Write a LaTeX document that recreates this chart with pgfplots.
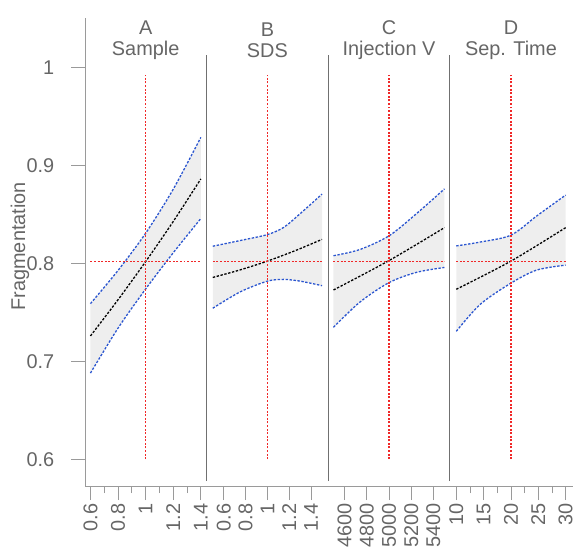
\documentclass[border=0pt]{standalone}
\usepackage{fontspec}
\setmainfont{Liberation Sans}
\usepackage{pgfplots}
\pgfplotsset{compat=1.18}
\definecolor{txt}{HTML}{666666}
\definecolor{axl}{HTML}{9A9A9A}
\definecolor{sepc}{HTML}{707070}
\definecolor{bandf}{HTML}{EEEEEE}
\definecolor{blu}{HTML}{2A55D0}
\definecolor{crossc}{RGB}{240,40,40}
\tikzset{
  ttl/.style={font=\fontsize{20}{21}\selectfont, text=txt, align=center},
  upl/.style={color=blu, line width=1.3pt, dash pattern=on 2.4pt off 1.6pt},
  ctrl/.style={color=black, line width=1.3pt, dash pattern=on 2.4pt off 1.6pt},
  redl/.style={color=crossc, line width=1.3pt, dash pattern=on 2pt off 1.6pt},
  band/.style={fill=bandf, draw=none},
  ytk/.style={color=axl, line width=0.8pt},
}
\pgfplotsset{
  prof/.style={
    scale only axis, width=122pt, height=471pt,
    anchor=south west,
    ymin=0.5725, ymax=1.0511,
    clip=false,
    axis x line*=bottom,
    major tick length=14pt, minor tick length=7pt,
    tick style={color=axl, line width=0.8pt},
    axis line style={color=axl, line width=0.9pt},
    /pgf/number format/assume math mode=true,
    /pgf/number format/set thousands separator={},
    every tick label/.append style={font=\fontsize{20}{22}\selectfont, text=txt},
    xticklabel style={rotate=90, anchor=east},
  },
  noy/.style={axis y line=none, ytick=\empty, xtick align=outside},
}
\begin{document}
\begin{tikzpicture}
\path (0,0) rectangle (576pt,563pt);
% Panel A
\begin{axis}[prof, at={(86pt,74pt)},
  xmin=0.564, xmax=1.443,
  axis y line*=left,
  xtick align=outside, ytick align=outside,
  ytick pos=left, yticklabel pos=left,
  ytick={0.6,0.7,0.8,0.9,1},
  yticklabel style={xshift=-14pt},
  xtick={0.6,0.8,1,1.2,1.4}, minor xtick={0.7,0.9,1.1,1.3},
  ylabel={Fragmentation},
  ylabel style={at={(axis description cs:-0.541,0.512)}, anchor=center, font=\fontsize{20}{22}\selectfont, text=txt},
]
\draw[ytk] (axis cs:0.564,0.6) -- ++(-15pt,0pt);
\draw[ytk] (axis cs:0.564,0.7) -- ++(-15pt,0pt);
\draw[ytk] (axis cs:0.564,0.8) -- ++(-15pt,0pt);
\draw[ytk] (axis cs:0.564,0.9) -- ++(-15pt,0pt);
\draw[ytk] (axis cs:0.564,1.0) -- ++(-15pt,0pt);
\addplot[band] coordinates {(0.6,0.759)(0.7,0.7755)(0.8,0.793)(0.9,0.8115)(1.0,0.831)(1.1,0.8525)(1.2,0.876)(1.3,0.9015)(1.4,0.929)
  (1.4,0.846)(1.3,0.829)(1.2,0.811)(1.1,0.7925)(1.0,0.774)(0.9,0.7545)(0.8,0.734)(0.7,0.7115)(0.6,0.688)} -- cycle;
\addplot[upl, smooth] coordinates {(0.6,0.759)(0.8,0.793)(1.0,0.831)(1.2,0.876)(1.4,0.929)};
\addplot[upl, smooth] coordinates {(0.6,0.688)(0.8,0.734)(1.0,0.774)(1.2,0.811)(1.4,0.846)};
\addplot[ctrl, smooth] coordinates {(0.6,0.726)(0.8,0.763)(1.0,0.802)(1.2,0.843)(1.4,0.8865)};
\addplot[redl] coordinates {(1,0.6)(1,0.9932)};
\addplot[redl] coordinates {(0.6,0.802)(1.4,0.802)};
\node[ttl] at (axis cs:1,1.0286) {A\\Sample};
\end{axis}
% Panel B
\begin{axis}[prof, noy, at={(208pt,74pt)},
  xmin=0.445, xmax=1.555,
  xtick={0.6,0.8,1,1.2,1.4},
]
\draw[sepc, line width=0.9pt] (rel axis cs:0,0.0106) -- (rel axis cs:0,0.9214);
\addplot[band] coordinates {(0.5,0.8177)(0.75,0.8235)(1.0,0.8296)(1.15,0.837)(1.3,0.851)(1.4,0.8605)(1.5,0.871)
  (1.5,0.7774)(1.4,0.7798)(1.3,0.782)(1.15,0.7838)(1.0,0.782)(0.875,0.7775)(0.75,0.771)(0.625,0.763)(0.5,0.7543)} -- cycle;
\addplot[upl, smooth] coordinates {(0.5,0.8177)(0.75,0.8235)(1.0,0.8296)(1.15,0.837)(1.3,0.851)(1.5,0.871)};
\addplot[upl, smooth] coordinates {(0.5,0.7543)(0.75,0.771)(1.0,0.782)(1.15,0.7838)(1.3,0.782)(1.5,0.7774)};
\addplot[ctrl, smooth] coordinates {(0.5,0.7858)(0.75,0.7935)(1.0,0.8025)(1.25,0.813)(1.5,0.8247)};
\addplot[redl] coordinates {(1,0.6)(1,0.9932)};
\addplot[redl] coordinates {(0.5,0.802)(1.5,0.802)};
\node[ttl] at (axis cs:1,1.0286) {B\\SDS};
\end{axis}
% Panel C
\begin{axis}[prof, noy, at={(330pt,74pt)},
  xmin=4451, xmax=5544,
  xtick={4600,4800,5000,5200,5400},
]
\draw[sepc, line width=0.9pt] (rel axis cs:0,0.0106) -- (rel axis cs:0,0.9214);
\addplot[band] coordinates {(4500,0.808)(4620,0.8105)(4737,0.8143)(4870,0.8205)(5000,0.8283)(5125,0.839)(5248,0.851)(5375,0.8635)(5500,0.8763)
  (5500,0.796)(5375,0.7942)(5248,0.791)(5125,0.7865)(5000,0.7805)(4870,0.7718)(4737,0.7605)(4620,0.748)(4500,0.7348)} -- cycle;
\addplot[upl, smooth] coordinates {(4500,0.808)(4737,0.8143)(5000,0.8283)(5248,0.851)(5500,0.8763)};
\addplot[upl, smooth] coordinates {(4500,0.7348)(4737,0.7605)(5000,0.7805)(5248,0.791)(5500,0.796)};
\addplot[ctrl, smooth] coordinates {(4500,0.773)(5000,0.803)(5500,0.8367)};
\addplot[redl] coordinates {(5000,0.6)(5000,0.9932)};
\addplot[redl] coordinates {(4500,0.802)(5500,0.802)};
\node[ttl] at (axis cs:5000,1.0286) {C\\Injection V};
\end{axis}
% Panel D
\begin{axis}[prof, noy, at={(452pt,74pt)}, width=124pt,
  xmin=8.73, xmax=31.27,
  xtick={10,15,20,25,30}, minor xtick={12.5,17.5,22.5,27.5},
]
\draw[sepc, line width=0.9pt] (rel axis cs:0,0.0106) -- (rel axis cs:0,0.9214);
\addplot[band] coordinates {(10,0.818)(12.2,0.8198)(14.4,0.822)(17.2,0.8248)(20,0.829)(22.35,0.8375)(24.7,0.8486)(27.35,0.859)(30,0.870)
  (30,0.7984)(27.35,0.7962)(24.7,0.7933)(22.35,0.7875)(20,0.780)(17.2,0.7705)(14.4,0.7584)(12.2,0.7455)(10,0.7307)} -- cycle;
\addplot[upl, smooth] coordinates {(10,0.818)(14.4,0.822)(20,0.829)(24.7,0.8486)(30,0.870)};
\addplot[upl, smooth] coordinates {(10,0.7307)(14.4,0.7584)(20,0.780)(24.7,0.7933)(30,0.7984)};
\addplot[ctrl, smooth] coordinates {(10,0.7737)(20,0.8025)(30,0.8367)};
\addplot[redl] coordinates {(20,0.6)(20,0.9932)};
\addplot[redl] coordinates {(10,0.802)(30,0.802)};
\node[ttl] at (axis cs:20,1.0286) {D\\Sep. Time};
\end{axis}
\end{tikzpicture}
\end{document}
